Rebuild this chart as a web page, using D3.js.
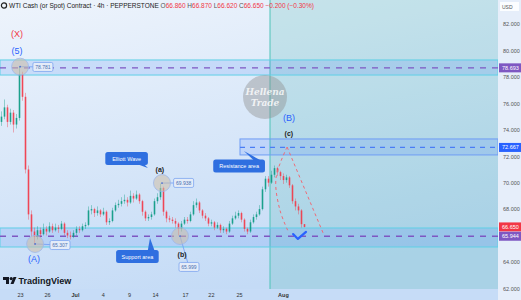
<!DOCTYPE html>
<html>
<head>
<meta charset="utf-8">
<script src="https://cdn.jsdelivr.net/npm/d3@7"></script>
<style>
body { margin: 0; background: #fff; }
svg { display: block; font-family: "Liberation Sans", Arial, sans-serif; }
</style>
</head>
<body>
<script>
// 4h candles, open of each bar = previous close
var firstOpen = 74.6;
var closes = [75.0,75.7,74.6,75.3,74.4,74.9,78.2,76.5,71.0,67.6,66.3,65.9,66.4,66.1,66.5,66.3,66.7,66.4,66.6,66.5,
  66.9,66.2,66.0,65.9,66.2,66.5,66.4,66.7,66.8,67.9,68.0,67.7,67.9,67.6,67.8,67.0,67.1,67.9,68.3,68.4,
  68.6,68.7,68.5,69.0,68.8,69.1,68.6,67.8,67.3,67.4,67.6,68.6,68.9,69.6,67.8,67.3,67.2,67.1,66.9,66.5,
  66.9,67.2,67.1,67.6,68.3,68.5,67.9,67.5,67.3,66.9,67.0,66.6,66.8,66.4,66.5,66.3,66.9,67.3,67.5,67.7,
  67.2,66.5,66.3,67.0,67.4,67.6,68.0,69.5,70.3,70.0,70.6,71.1,70.8,70.5,70.2,70.4,69.8,68.6,68.2,67.9,
  66.86,66.65];
var highs = [75.4,76.3,75.9,75.6,75.5,75.2,78.78,78.4,76.8,71.3,67.9,66.6,66.7,66.6,66.9,66.7,67.0,66.9,66.9,66.8,
  67.1,67.0,66.4,66.3,66.4,66.7,66.7,66.9,67.0,68.2,68.3,68.1,68.2,68.0,68.1,67.9,67.3,68.1,68.5,68.7,
  68.9,69.1,68.9,69.4,69.2,69.4,69.2,68.7,67.9,67.6,67.8,68.8,69.2,69.938,69.7,67.9,67.5,67.4,67.3,67.0,
  67.1,67.4,67.4,67.8,68.6,68.8,68.6,68.0,67.7,67.4,67.2,67.1,67.0,66.9,66.7,66.6,67.1,67.5,67.8,67.9,
  67.8,67.3,66.6,67.2,67.6,67.8,68.3,69.7,70.5,70.5,70.9,71.3,71.2,70.9,70.7,70.6,70.5,69.9,68.8,68.4,
  68.0,66.87];
var lows = [74.3,74.8,74.2,74.4,73.8,74.1,74.7,76.2,70.7,67.2,65.9,65.307,65.7,65.8,66.0,66.0,66.2,66.2,66.3,66.2,
  66.4,66.0,65.8,65.7,65.8,66.0,66.2,66.3,66.5,66.7,67.6,67.4,67.5,67.4,67.5,66.8,66.8,67.0,67.8,68.1,
  68.2,68.4,68.2,68.4,68.5,68.7,68.4,67.5,67.1,67.1,67.2,67.5,68.4,68.7,67.5,67.0,67.0,66.9,66.6,65.999,
  66.3,66.8,66.9,67.0,67.5,68.1,67.7,67.3,67.1,66.7,66.7,66.4,66.5,66.2,66.2,66.1,66.2,66.8,67.2,67.3,
  67.0,66.3,66.1,66.2,66.9,67.2,67.5,67.9,69.3,69.7,69.9,70.4,70.5,70.2,69.9,70.0,69.6,68.4,67.9,67.6,
  66.6,66.62];

var dateLabels = ["23", "26", "Jul", "4", "9", "14", "17", "22", "25", "Aug"];
var dateIndex = [6.2, 15.2, 24.5, 33.8, 42.5, 51.2, 61.2, 69.8, 79.2, 93.8];
var priceTicks = [62, 64, 66, 68, 70, 72, 74, 76, 78, 80, 82];

// support / top zones with their dashed level
var zoneTops = [79.29, 66.57];
var zoneBottoms = [78.15, 65.13];
var zoneLevels = [78.693, 65.944];
var resistance = {from: 79.5, top: 73.31, bottom: 72.10, level: 72.667};
var futureFrom = 89.5;

var axisTags = [
  {text: "78.693", value: 78.693, color: "#7e57c2"},
  {text: "72.667", value: 72.667, color: "#2962ff"},
  {text: "66.650", value: 66.650, color: "#f23645"},
  {text: "65.944", value: 65.944, color: "#7e57c2"}
];

var waveLabels = [
  {text: "(X)", i: 5.2, p: 81.26, color: "#f23645"},
  {text: "(5)", i: 5.2, p: 79.97, color: "#2962ff"},
  {text: "(A)", i: 10.8, p: 64.22, color: "#2962ff"},
  {text: "(a)", i: 52.8, p: 71.04, color: "#222"},
  {text: "(b)", i: 60.2, p: 64.6, color: "#222"},
  {text: "(B)", i: 95.8, p: 74.9, color: "#2962ff"},
  {text: "(c)", i: 95.8, p: 73.76, color: "#222"}
];

var pivots = [
  {i: 6.2, p: 78.781, text: "78.781", li: 13.8, lp: 78.76},
  {i: 11.2, p: 65.36, text: "65.307", li: 19.5, lp: 65.28},
  {i: 53.5, p: 69.97, text: "69.938", li: 60.7, lp: 69.98},
  {i: 59.5, p: 65.96, text: "65.999", li: 62.5, lp: 63.62}
];

var callouts = [
  {text: "Elliott Wave", i: 41.7, p: 71.83, ti: 48.8, tp: 71.11},
  {text: "Support area", i: 45.3, p: 64.41, ti: 49.5, tp: 65.81},
  {text: "Resistance area", i: 79.2, p: 71.26, ti: 80.8, tp: 72.4}
];

var projOuter = [[95.2, 72.7], [107.2, 66.19]];
var projInner = [[95.2, 72.7], [91.5, 70.35], [92.8, 67.93], [95.8, 66.19]];
var checkMark = [[97.2, 66.11], [98.8, 65.74], [101.5, 66.27]];

var width = 521, height = 300;
var plotRight = 498, plotBottom = 289;

var xScale = d3.scaleLinear().domain([-0.5, 165.5]).range([0, plotRight]);
var yScale = d3.scaleLinear().domain([61.95, 83.83]).range([plotBottom, 0]);

var svg = d3.select("body").append("svg")
  .attr("width", width)
  .attr("height", height);

var defs = svg.append("defs");
var bg = defs.append("linearGradient").attr("id", "bg")
  .attr("x1", 0).attr("y1", 0).attr("x2", 0.35).attr("y2", 1);
bg.append("stop").attr("offset", "0%").attr("stop-color", "#eef4fc");
bg.append("stop").attr("offset", "100%").attr("stop-color", "#c4dbf6");
defs.append("clipPath").attr("id", "plot")
  .append("rect").attr("width", plotRight).attr("height", plotBottom);

svg.append("rect").attr("width", width).attr("height", height).attr("fill", "url(#bg)");

var plot = svg.append("g").attr("clip-path", "url(#plot)");

// future zone
plot.append("rect")
  .attr("x", xScale(futureFrom))
  .attr("y", 0)
  .attr("width", plotRight - xScale(futureFrom))
  .attr("height", plotBottom)
  .attr("fill", "rgba(38,166,154,0.17)");
plot.append("line")
  .attr("x1", xScale(futureFrom)).attr("x2", xScale(futureFrom))
  .attr("y1", 0).attr("y2", plotBottom)
  .attr("stroke", "#4fc3b8").attr("stroke-width", 1);

// zones
zoneTops.forEach(function(t, k) {
  plot.append("rect")
    .attr("x", 0).attr("width", plotRight)
    .attr("y", yScale(t))
    .attr("height", yScale(zoneBottoms[k]) - yScale(t))
    .attr("fill", "rgba(66,133,244,0.17)")
    .attr("stroke", "#5fd0e6").attr("stroke-width", 1);
  plot.append("line")
    .attr("x1", 0).attr("x2", plotRight)
    .attr("y1", yScale(zoneLevels[k])).attr("y2", yScale(zoneLevels[k]))
    .attr("stroke", "#7e57c2").attr("stroke-width", 1.4)
    .attr("stroke-dasharray", "6,6");
});

plot.append("rect")
  .attr("x", xScale(resistance.from)).attr("width", plotRight - xScale(resistance.from))
  .attr("y", yScale(resistance.top))
  .attr("height", yScale(resistance.bottom) - yScale(resistance.top))
  .attr("fill", "rgba(41,98,255,0.13)")
  .attr("stroke", "#6f9cf5").attr("stroke-width", 1);
plot.append("line")
  .attr("x1", xScale(resistance.from)).attr("x2", plotRight)
  .attr("y1", yScale(resistance.level)).attr("y2", yScale(resistance.level))
  .attr("stroke", "#4a7df5").attr("stroke-width", 1.2)
  .attr("stroke-dasharray", "5,5");

// watermark
var wm = plot.append("g");
wm.append("circle").attr("cx", 265).attr("cy", 97).attr("r", 22)
  .attr("fill", "rgba(140,140,140,0.42)");
wm.selectAll("text").data(["Hellena", "Trade"]).enter().append("text")
  .attr("x", 265).attr("y", function(d, k) { return 95 + k * 11; })
  .attr("text-anchor", "middle")
  .style("font-family", "'DejaVu Serif', 'Liberation Serif', serif")
  .style("font-style", "italic").style("font-weight", "bold")
  .style("font-size", "9px").attr("fill", "rgba(255,255,255,0.8)")
  .text(function(d) { return d; });

// candles
var candles = closes.map(function(c, i) {
  return {i: i, o: i ? closes[i - 1] : firstOpen, c: c, h: highs[i], l: lows[i]};
});
var candleColor = function(d) { return d.c >= d.o ? "#089981" : "#f23645"; };

plot.selectAll(".wick").data(candles).enter().append("line")
  .attr("class", "wick")
  .attr("x1", function(d) { return xScale(d.i); })
  .attr("x2", function(d) { return xScale(d.i); })
  .attr("y1", function(d) { return yScale(d.h); })
  .attr("y2", function(d) { return yScale(d.l); })
  .attr("stroke", candleColor).attr("stroke-width", 0.7).attr("opacity", 0.55);
plot.selectAll(".body").data(candles).enter().append("rect")
  .attr("class", "body")
  .attr("x", function(d) { return xScale(d.i) - 0.8; })
  .attr("width", 1.6)
  .attr("y", function(d) { return yScale(Math.max(d.o, d.c)); })
  .attr("height", function(d) { return Math.max(0.7, Math.abs(yScale(d.o) - yScale(d.c))); })
  .attr("fill", candleColor).attr("opacity", 0.85);

// projection
var projLine = d3.line()
  .x(function(d) { return xScale(d[0]); })
  .y(function(d) { return yScale(d[1]); });
plot.append("path").attr("d", projLine(projOuter))
  .attr("fill", "none").attr("stroke", "#ef6b77").attr("stroke-width", 1)
  .attr("stroke-dasharray", "3,3");
plot.append("path").attr("d", projLine.curve(d3.curveCatmullRom)(projInner))
  .attr("fill", "none").attr("stroke", "#ef6b77").attr("stroke-width", 1)
  .attr("stroke-dasharray", "3,3");
plot.append("path").attr("d", projLine.curve(d3.curveLinear)(checkMark))
  .attr("fill", "none").attr("stroke", "#2962ff").attr("stroke-width", 2.2)
  .attr("stroke-linecap", "round").attr("stroke-linejoin", "round");

// pivots with price boxes
pivots.forEach(function(d) {
  var cx = xScale(d.i), cy = yScale(d.p), lx = xScale(d.li), ly = yScale(d.lp);
  plot.append("line").attr("x1", cx).attr("y1", cy).attr("x2", lx).attr("y2", ly)
    .attr("stroke", "#6f9cf5").attr("stroke-width", 0.8);
  plot.append("circle").attr("cx", cx).attr("cy", cy).attr("r", 8.5)
    .attr("fill", "rgba(205,190,165,0.55)").attr("stroke", "#9fb8e8").attr("stroke-width", 0.8);
  plot.append("circle").attr("cx", cx).attr("cy", cy).attr("r", 0.9).attr("fill", "#4a6fd0");
  plot.append("rect").attr("x", lx - 10).attr("y", ly - 4.5).attr("width", 20).attr("height", 9)
    .attr("rx", 1.5).attr("fill", "#e4ecf8").attr("stroke", "#7ea6f0").attr("stroke-width", 0.8);
  plot.append("text").attr("x", lx).attr("y", ly + 1.8).attr("text-anchor", "middle")
    .style("font-size", "5px").attr("fill", "#4a6fb0").text(d.text);
});

// wave labels
plot.selectAll(".wave").data(waveLabels).enter().append("text")
  .attr("class", "wave")
  .attr("x", function(d) { return xScale(d.i); })
  .attr("y", function(d) { return yScale(d.p) + 3; })
  .attr("text-anchor", "middle")
  .style("font-size", function(d) { return d.color == "#222" ? "7px" : "9px"; })
  .style("font-weight", function(d) { return d.color == "#222" ? "bold" : "normal"; })
  .attr("fill", function(d) { return d.color; })
  .text(function(d) { return d.text; });

// callouts
callouts.forEach(function(d) {
  var cx = xScale(d.i), cy = yScale(d.p), tx = xScale(d.ti), ty = yScale(d.tp);
  var w = d.text.length * 3.05 + 6, h = 13;
  var g = plot.append("g");
  var bx = cx + (tx > cx ? w / 2 - 7 : -w / 2 + 7);
  var by = ty > cy ? cy + h / 2 - 1 : cy - h / 2 + 1;
  g.append("path").attr("d", "M" + (bx - 4) + "," + by + "L" + tx + "," + ty + "L" + (bx + 3) + "," + by + "Z")
    .attr("fill", "#2f6fe0");
  g.append("rect").attr("x", cx - w / 2).attr("y", cy - h / 2).attr("width", w).attr("height", h)
    .attr("rx", 2.5).attr("fill", "#2f6fe0");
  g.append("text").attr("x", cx).attr("y", cy + 2).attr("text-anchor", "middle")
    .style("font-size", "5.5px").attr("fill", "#fff").text(d.text);
});

// right price axis
svg.append("rect").attr("x", plotRight).attr("y", 0).attr("width", width - plotRight).attr("height", height)
  .attr("fill", "#e6eefa");
svg.append("rect").attr("x", 500).attr("y", 2).attr("width", 19).attr("height", 9)
  .attr("fill", "#fbfdff");
svg.append("text").attr("x", 502).attr("y", 8.5).style("font-size", "5px").attr("fill", "#555").text("USD");

var yAxis = d3.axisRight(yScale).tickValues(priceTicks).tickSize(0).tickPadding(5)
  .tickFormat(d3.format(".3f"));
var ya = svg.append("g").attr("transform", "translate(" + plotRight + ",0)").call(yAxis);
ya.select(".domain").remove();
ya.selectAll("text").style("font-size", "5.5px").attr("fill", "#555")
  .style("font-family", "'Liberation Sans', Arial, sans-serif");

axisTags.forEach(function(d) {
  var y = yScale(d.value);
  svg.append("rect").attr("x", plotRight + 1).attr("y", y - 4.5).attr("width", 22).attr("height", 9)
    .attr("fill", d.color);
  svg.append("text").attr("x", plotRight + 4).attr("y", y + 2).style("font-size", "5.5px")
    .attr("fill", "#fff").text(d.text);
});

// bottom date axis
svg.append("rect").attr("x", 0).attr("y", plotBottom).attr("width", plotRight).attr("height", height - plotBottom)
  .attr("fill", "#c6dcf7");
var xAxis = d3.axisBottom(xScale).tickValues(dateIndex).tickSize(0).tickPadding(4.5)
  .tickFormat(function(d, k) { return dateLabels[k]; });
var xa = svg.append("g").attr("transform", "translate(0," + plotBottom + ")").call(xAxis);
xa.select(".domain").remove();
xa.selectAll("text").style("font-size", "5.5px").attr("fill", "#333")
  .style("font-family", "'Liberation Sans', Arial, sans-serif")
  .style("font-weight", function(d, k) { return isNaN(+dateLabels[k]) ? "bold" : "normal"; });

// header
svg.append("circle").attr("cx", 4).attr("cy", 5.5).attr("r", 2.6)
  .attr("fill", "none").attr("stroke", "#222").attr("stroke-width", 1.2);
var head = svg.append("text").attr("x", 9).attr("y", 7.8).style("font-size", "6.5px");
head.append("tspan").attr("fill", "#222").text("WTI Cash (or Spot) Contract · 4h · PEPPERSTONE  ");
var ohlc = [["O", "66.860"], ["H", "66.870"], ["L", "66.620"], ["C", "66.650"]];
ohlc.forEach(function(d) {
  head.append("tspan").attr("fill", "#555").text(d[0]);
  head.append("tspan").attr("fill", "#f23645").text(d[1] + " ");
});
head.append("tspan").attr("fill", "#f23645").text("−0.200 (−0.30%)");

// logo
var logo = svg.append("g").attr("transform", "translate(3,277)");
logo.append("path").attr("d", "M0,0H6V7H3V3H0Z").attr("fill", "#131722");
logo.append("circle").attr("cx", 8.2).attr("cy", 1.6).attr("r", 1.6).attr("fill", "#131722");
logo.append("path").attr("d", "M7.5,7L10.5,0H13.5L10.5,7Z").attr("fill", "#131722");
logo.append("text").attr("x", 15.5).attr("y", 7).style("font-size", "9px").style("font-weight", "bold")
  .attr("fill", "#131722").text("TradingView");
</script>
</body>
</html>
